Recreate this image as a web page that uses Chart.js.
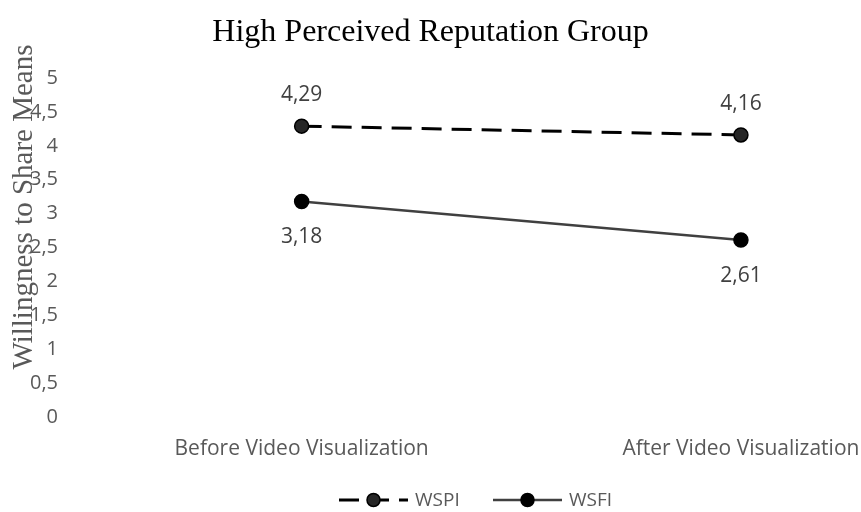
<!DOCTYPE html>
<html>
<head>
<meta charset="utf-8">
<script src="https://cdn.jsdelivr.net/npm/chart.js@4"></script>
<style>
  html, body { margin: 0; padding: 0; background: #ffffff; }
  #wrap { width: 861px; height: 512px; position: relative; }
</style>
</head>
<body>
<div id="wrap"><canvas id="chart"></canvas></div>
<script>
// Willingness-to-share means, before and after the video, high reputation group
const categories = ['Before Video Visualization', 'After Video Visualization'];
const wspiValues = [4.29, 4.16];
const wsfiValues = [3.18, 2.61];
const yTicks = [0, 0.5, 1, 1.5, 2, 2.5, 3, 3.5, 4, 4.5, 5];
const seriesNames = ['WSPI', 'WSFI'];

const fmt = v => String(v).replace('.', ',');
const toPoints = vals => vals.map((v, i) => ({ x: i, y: v }));
const sansFont = '"Open Sans", sans-serif';

// value labels above (WSPI) or below (WSFI) each marker
const valueLabels = {
  id: 'valueLabels',
  afterDatasetsDraw(chart) {
    const ctx = chart.ctx;
    ctx.save();
    ctx.font = '21px ' + sansFont;
    ctx.fillStyle = '#404040';
    ctx.textAlign = 'center';
    ctx.textBaseline = 'middle';
    chart.data.datasets.forEach((ds, di) => {
      const meta = chart.getDatasetMeta(di);
      const offset = ds.labelSide === 'above' ? -31 : 36;
      meta.data.forEach((pt, i) => {
        ctx.fillText(fmt(ds.data[i].y), pt.x, pt.y + offset);
      });
    });
    ctx.restore();
  }
};

// rotated serif axis title and line-sample legend
const decorations = {
  id: 'decorations',
  afterDraw(chart) {
    const ctx = chart.ctx;
    ctx.save();
    ctx.translate(24, 207);
    ctx.rotate(-Math.PI / 2);
    ctx.font = '29px "Liberation Serif", serif';
    ctx.fillStyle = '#595959';
    ctx.textAlign = 'center';
    ctx.textBaseline = 'middle';
    ctx.fillText('Willingness to Share Means', 0, 0);
    ctx.restore();

    const y = 500;
    const items = [
      { x0: 339, ds: chart.data.datasets[0] },
      { x0: 493, ds: chart.data.datasets[1] }
    ];
    items.forEach(it => {
      const ds = it.ds;
      const len = 69;
      ctx.save();
      ctx.strokeStyle = ds.borderColor;
      ctx.lineWidth = ds.borderWidth;
      ctx.setLineDash(ds.borderDash || []);
      ctx.beginPath();
      ctx.moveTo(it.x0, y);
      ctx.lineTo(it.x0 + len, y);
      ctx.stroke();
      ctx.setLineDash([]);
      ctx.beginPath();
      ctx.arc(it.x0 + len / 2, y, 6.5, 0, Math.PI * 2);
      ctx.fillStyle = ds.pointBackgroundColor;
      ctx.fill();
      ctx.lineWidth = 1.5;
      ctx.strokeStyle = ds.pointBorderColor;
      ctx.stroke();
      ctx.font = '19px ' + sansFont;
      ctx.fillStyle = '#595959';
      ctx.textAlign = 'left';
      ctx.textBaseline = 'middle';
      ctx.fillText(ds.label, it.x0 + len + 7, y + 1);
      ctx.restore();
    });
  }
};

new Chart(document.getElementById('chart'), {
  type: 'line',
  data: {
    datasets: [
      {
        label: seriesNames[0],
        data: toPoints(wspiValues),
        borderColor: '#000000',
        borderWidth: 3,
        borderDash: [20, 10],
        borderCapStyle: 'butt',
        pointRadius: 7,
        pointBackgroundColor: '#262626',
        pointBorderColor: '#000000',
        pointBorderWidth: 1.5,
        labelSide: 'above'
      },
      {
        label: seriesNames[1],
        data: toPoints(wsfiValues),
        borderColor: '#404040',
        borderWidth: 2.5,
        pointRadius: 7,
        pointBackgroundColor: '#000000',
        pointBorderColor: '#000000',
        pointBorderWidth: 1.5,
        labelSide: 'below'
      }
    ]
  },
  options: {
    responsive: true,
    maintainAspectRatio: false,
    animation: false,
    layout: { padding: { left: 0, right: 0, top: 0, bottom: 52 } },
    plugins: {
      legend: { display: false },
      tooltip: { enabled: false },
      title: {
        display: true,
        text: 'High Perceived Reputation Group',
        color: '#000000',
        font: { family: '"Liberation Serif", serif', size: 32, weight: 'normal' },
        padding: { top: 13.8, bottom: 25.8 }
      }
    },
    scales: {
      x: {
        type: 'linear',
        min: -0.5387,
        max: 1.254,
        grid: { display: false, drawTicks: false },
        border: { display: false },
        afterBuildTicks: scale => { scale.ticks = categories.map((c, i) => ({ value: i })); },
        afterFit: scale => {
          scale.height = 43;
          scale.paddingLeft = 0;
          scale.paddingRight = 0;
        },
        ticks: {
          padding: 19,
          color: '#595959',
          font: { family: sansFont, size: 21 },
          maxRotation: 0,
          autoSkip: false,
          callback: v => categories[v]
        }
      },
      y: {
        min: 0,
        max: 5,
        grid: { display: false, drawTicks: false },
        border: { display: false },
        afterBuildTicks: scale => { scale.ticks = yTicks.map(v => ({ value: v })); },
        afterFit: scale => { scale.width = 65; },
        ticks: {
          padding: 7,
          color: '#595959',
          font: { family: sansFont, size: 20 },
          callback: v => fmt(v)
        }
      }
    }
  },
  plugins: [valueLabels, decorations]
});
</script>
</body>
</html>
